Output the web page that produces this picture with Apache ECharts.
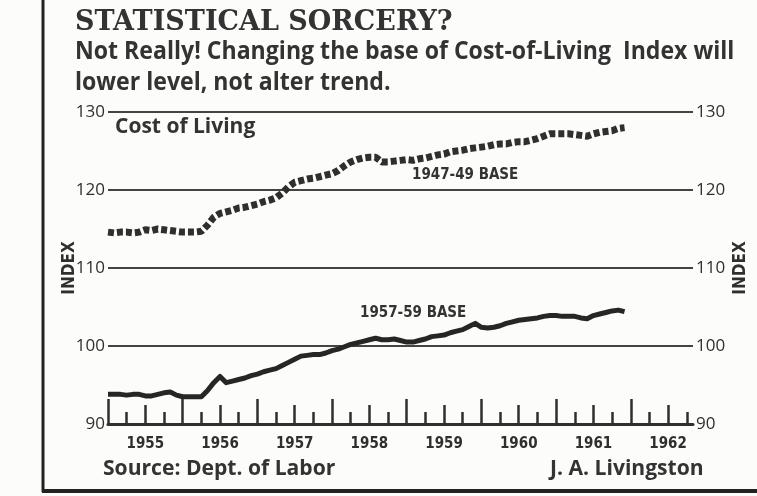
<!DOCTYPE html>
<html>
<head>
<meta charset="utf-8">
<title>Statistical Sorcery?</title>
<script src="https://cdn.jsdelivr.net/npm/echarts/dist/echarts.min.js"></script>
<style>
  html, body { margin: 0; padding: 0; background: #fcfcfa; }
  #chart { width: 757px; height: 496px; }
</style>
</head>
<body>
<div id="chart"></div>
<script>
// years shown on the axis, months per year
const years = [1955, 1956, 1957, 1958, 1959, 1960, 1961, 1962]
const monthNames = ['01', '02', '03', '04', '05', '06', '07', '08', '09', '10', '11', '12']
const yTicks = [90, 100, 110, 120, 130]

// Cost of Living, 1947-49 = 100 (monthly, Jan 1955 - Dec 1961)
const base4749 = [
  114.6, 114.5, 114.6, 114.6, 114.5, 114.6, 114.9, 114.8, 115.0, 114.9, 114.8, 114.7,
  114.6, 114.6, 114.6, 114.7, 115.5, 116.5, 117.0, 117.2, 117.4, 117.7, 117.8, 118.0,
  118.2, 118.5, 118.7, 119.0, 119.6, 120.4, 121.0, 121.2, 121.4, 121.5, 121.7, 121.9,
  122.1, 122.5, 123.1, 123.6, 123.9, 124.1, 124.2, 124.2, 123.6, 123.6, 123.7, 123.8,
  123.9, 123.8, 124.0, 124.1, 124.3, 124.5, 124.6, 124.9, 125.0, 125.1, 125.3, 125.4,
  125.5, 125.6, 125.8, 125.9, 125.9, 126.1, 126.2, 126.2, 126.4, 126.6, 126.9, 127.2,
  127.2, 127.2, 127.2, 127.1, 127.0, 126.9, 127.2, 127.4, 127.5, 127.6, 127.9, 128.0
]
// same index, 1957-59 = 100
const base5759 = [
  93.8, 93.8, 93.8, 93.7, 93.8, 93.8, 93.6, 93.6, 93.8, 94.0, 94.1, 93.7,
  93.5, 93.5, 93.5, 93.5, 94.3, 95.3, 96.1, 95.3, 95.5, 95.7, 95.9, 96.2,
  96.4, 96.7, 96.9, 97.1, 97.5, 97.9, 98.3, 98.7, 98.8, 98.9, 98.9, 99.1,
  99.4, 99.6, 99.9, 100.2, 100.4, 100.6, 100.8, 101.0, 100.8, 100.8, 100.9, 100.7,
  100.5, 100.5, 100.7, 100.9, 101.2, 101.3, 101.4, 101.7, 101.9, 102.1, 102.5, 102.9,
  102.4, 102.3, 102.4, 102.6, 102.9, 103.1, 103.3, 103.4, 103.5, 103.6, 103.8, 103.9,
  103.9, 103.8, 103.8, 103.8, 103.6, 103.5, 103.9, 104.1, 104.3, 104.5, 104.6, 104.4
]

// month categories Jan 1955 .. Nov 1962
const months = []
years.forEach(y => monthNames.forEach(m => months.push(y + '-' + m)))
months.length = 95

const ink = '#2f2f2f'
const sans = '"Open Sans", Lato, sans-serif'
const narrow = '"Liberation Sans Narrow", "DejaVu Sans Condensed", sans-serif'

// pick a font size so a text gets the width it has in the print
const ctx = document.createElement('canvas').getContext('2d')
function fit(text, family, width) {
  ctx.font = 'bold 20px ' + family
  return Math.round(20 * width / ctx.measureText(text).width * 10) / 10
}
const subLine1 = 'Not Really! Changing the base of Cost-of-Living  Index will'
const subLine2 = 'lower level, not alter trend.'
const subSize = fit(subLine1, sans, 660)
const costSize = fit('Cost of Living', sans, 140)
const srcSize = fit('Source: Dept. of Labor', sans, 232)

function label(text, x, y, font, sy) {
  return {
    type: 'text', x: x, y: y, scaleY: sy || 1,
    style: { text: text, font: font, fill: '#333', verticalAlign: 'middle' }
  }
}

const chart = echarts.init(document.getElementById('chart'))

// x axes: one per tick length (quarter / half year / year)
function tickAxis(every, len, main) {
  return {
    type: 'category',
    data: months,
    boundaryGap: false,
    position: 'bottom',
    axisLine: { show: main, lineStyle: { color: ink, width: 3 } },
    axisTick: {
      show: true,
      inside: true,
      length: len,
      interval: (i) => i % every === 0,
      lineStyle: { color: ink, width: 2.5 }
    },
    axisLabel: main ? {
      show: true,
      interval: (i) => i % 12 === 6,
      formatter: (v) => v.slice(0, 4),
      margin: 13,
      color: ink,
      fontSize: 15,
      fontWeight: 'bold',
      fontFamily: narrow
    } : { show: false },
    splitLine: { show: false }
  }
}

function valueAxis(side) {
  return {
    type: 'value',
    position: side,
    min: yTicks[0],
    max: yTicks[yTicks.length - 1],
    interval: 10,
    name: 'INDEX',
    nameLocation: 'middle',
    nameRotate: 90,
    nameMoveOverlap: false,
    nameGap: side === 'left' ? 30 : 39,
    nameTextStyle: { color: ink, fontSize: 17, fontWeight: 'bold', fontFamily: narrow },
    axisLine: { show: false },
    axisTick: { show: false },
    axisLabel: { color: ink, fontSize: 17, margin: 3, fontFamily: sans },
    splitLine: { show: side === 'left', lineStyle: { color: '#444', width: 2 } }
  }
}

const option = {
  backgroundColor: '#fcfcfa',
  animation: false,
  grid: { left: 108, right: 57, top: 112, bottom: 72 },
  xAxis: [tickAxis(3, 12, true), tickAxis(6, 19, false), tickAxis(12, 25, false)],
  yAxis: [valueAxis('left'), valueAxis('right')],
  series: [
    {
      name: '1947-49 BASE',
      type: 'line',
      data: base4749,
      showSymbol: false,
      lineStyle: { color: ink, width: 7, type: [6, 3], cap: 'butt' }
    },
    {
      name: '1957-59 BASE',
      type: 'line',
      data: base5759,
      showSymbol: false,
      lineStyle: { color: '#262626', width: 5, join: 'round' }
    }
  ],
  graphic: [
    { type: 'line', shape: { x1: 43, y1: 0, x2: 43, y2: 492 }, style: { stroke: '#222', lineWidth: 3 } },
    { type: 'line', shape: { x1: 42, y1: 491, x2: 757, y2: 491 }, style: { stroke: '#222', lineWidth: 4 } },
    label('STATISTICAL SORCERY?', 75, 23, 'bold 27px "DejaVu Serif"', 1.06),
    label(subLine1, 75, 52, 'bold ' + subSize + 'px ' + sans, 1.08),
    label(subLine2, 75, 83, 'bold ' + subSize + 'px ' + sans, 1.08),
    label('Cost of Living', 115, 127, 'bold ' + costSize + 'px ' + sans),
    label('1947-49 BASE', 412, 175, 'bold 15px ' + narrow),
    label('1957-59 BASE', 360, 313, 'bold 15px ' + narrow),
    label('Source: Dept. of Labor', 103, 469, 'bold ' + srcSize + 'px ' + sans),
    label('J. A. Livingston', 550, 469, 'bold ' + srcSize + 'px ' + sans)
  ]
}

chart.setOption(option)
</script>
</body>
</html>
